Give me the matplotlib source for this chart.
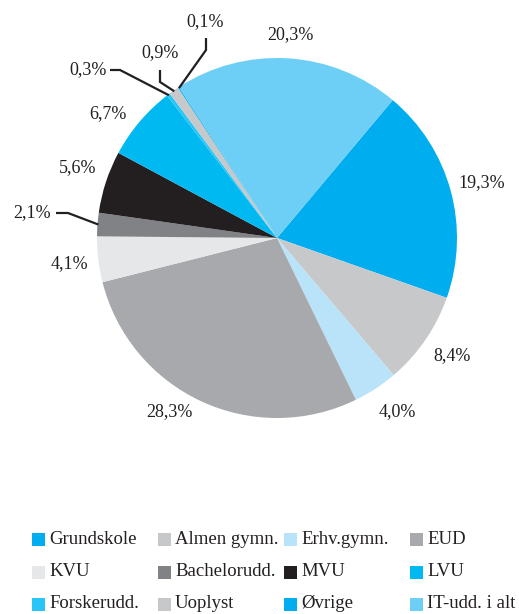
import numpy as np
import matplotlib
matplotlib.use('Agg')
import matplotlib.pyplot as plt
from matplotlib.patches import Rectangle

# Share of employed by education, per cent
categories = ['Grundskole', 'Almen gymn.', 'Erhv.gymn.', 'EUD',
              'KVU', 'Bachelorudd.', 'MVU', 'LVU',
              'Forskerudd.', 'Uoplyst', 'Øvrige', 'IT-udd. i alt']
shares = [19.3, 8.4, 4.0, 28.3, 4.1, 2.1, 5.6, 6.7, 0.3, 0.9, 0.1, 20.3]
colors = ['#00AEEF', '#C7C8CA', '#B9E3F9', '#A7A9AC',
          '#E6E7E8', '#808285', '#231F20', '#00B9F1',
          '#29C5F6', '#C7C8CA', '#00AEEF', '#6DCFF6']

# layout in pixel units (y measured from the top)
W, H = 519, 614
label_xy = [(482, 183), (452, 356), (397, 412), (169, 412), (69, 264), (32, 213),
            (78, 168), (108, 114), (88, 70), (160, 53), (205, 22), (290, 35)]
leader_bends = {5: [(56, 213), (68, 213)],
                8: [(110, 70), (120, 70)],
                9: [(160, 70), (160, 82)],
                10: [(206, 38), (206, 50)]}

ink = '#231F20'
font = 'Liberation Serif'
fs_label = 13
fs_legend = 13.5

fig = plt.figure(figsize=(W / 100, H / 100), dpi=100)
ax = fig.add_axes([0, 0, 1, 1])

cx, cy, R = 277, H - 238, 180
wedges, _ = ax.pie(shares, colors=colors, startangle=50, counterclock=False,
                   radius=R, center=(cx, cy), normalize=True,
                   wedgeprops=dict(linewidth=0))
ax.set_xlim(0, W)
ax.set_ylim(0, H)
ax.set_aspect('equal')
ax.axis('off')

for i, (w, v) in enumerate(zip(wedges, shares)):
    lx, ly = label_xy[i]
    txt = f"{v:.1f}".replace('.', ',') + '%'
    ax.text(lx, H - ly, txt, ha='center', va='center', fontsize=fs_label,
            family=font, color=ink)
    if i in leader_bends:
        mid = np.deg2rad((w.theta1 + w.theta2) / 2)
        ex, ey = cx + 0.995 * R * np.cos(mid), cy + 0.995 * R * np.sin(mid)
        pts = [(x, H - y) for x, y in leader_bends[i]] + [(ex, ey)]
        xs, ys = zip(*pts)
        ax.plot(xs, ys, color=ink, lw=1.6, solid_capstyle='butt',
                solid_joinstyle='miter')

# legend, four columns in row order
col_x = [32, 158, 284, 410]
row_y = [539, 572, 604]
sq = 13
for i, (name, c) in enumerate(zip(categories, colors)):
    x = col_x[i % 4]
    y = H - row_y[i // 4]
    ax.add_patch(Rectangle((x, y - sq / 2), sq, sq, facecolor=c, edgecolor='none'))
    ax.text(x + sq + 4, y, name, ha='left', va='center', fontsize=fs_legend,
            family=font, color=ink)

fig.savefig('out.png', dpi=100)
